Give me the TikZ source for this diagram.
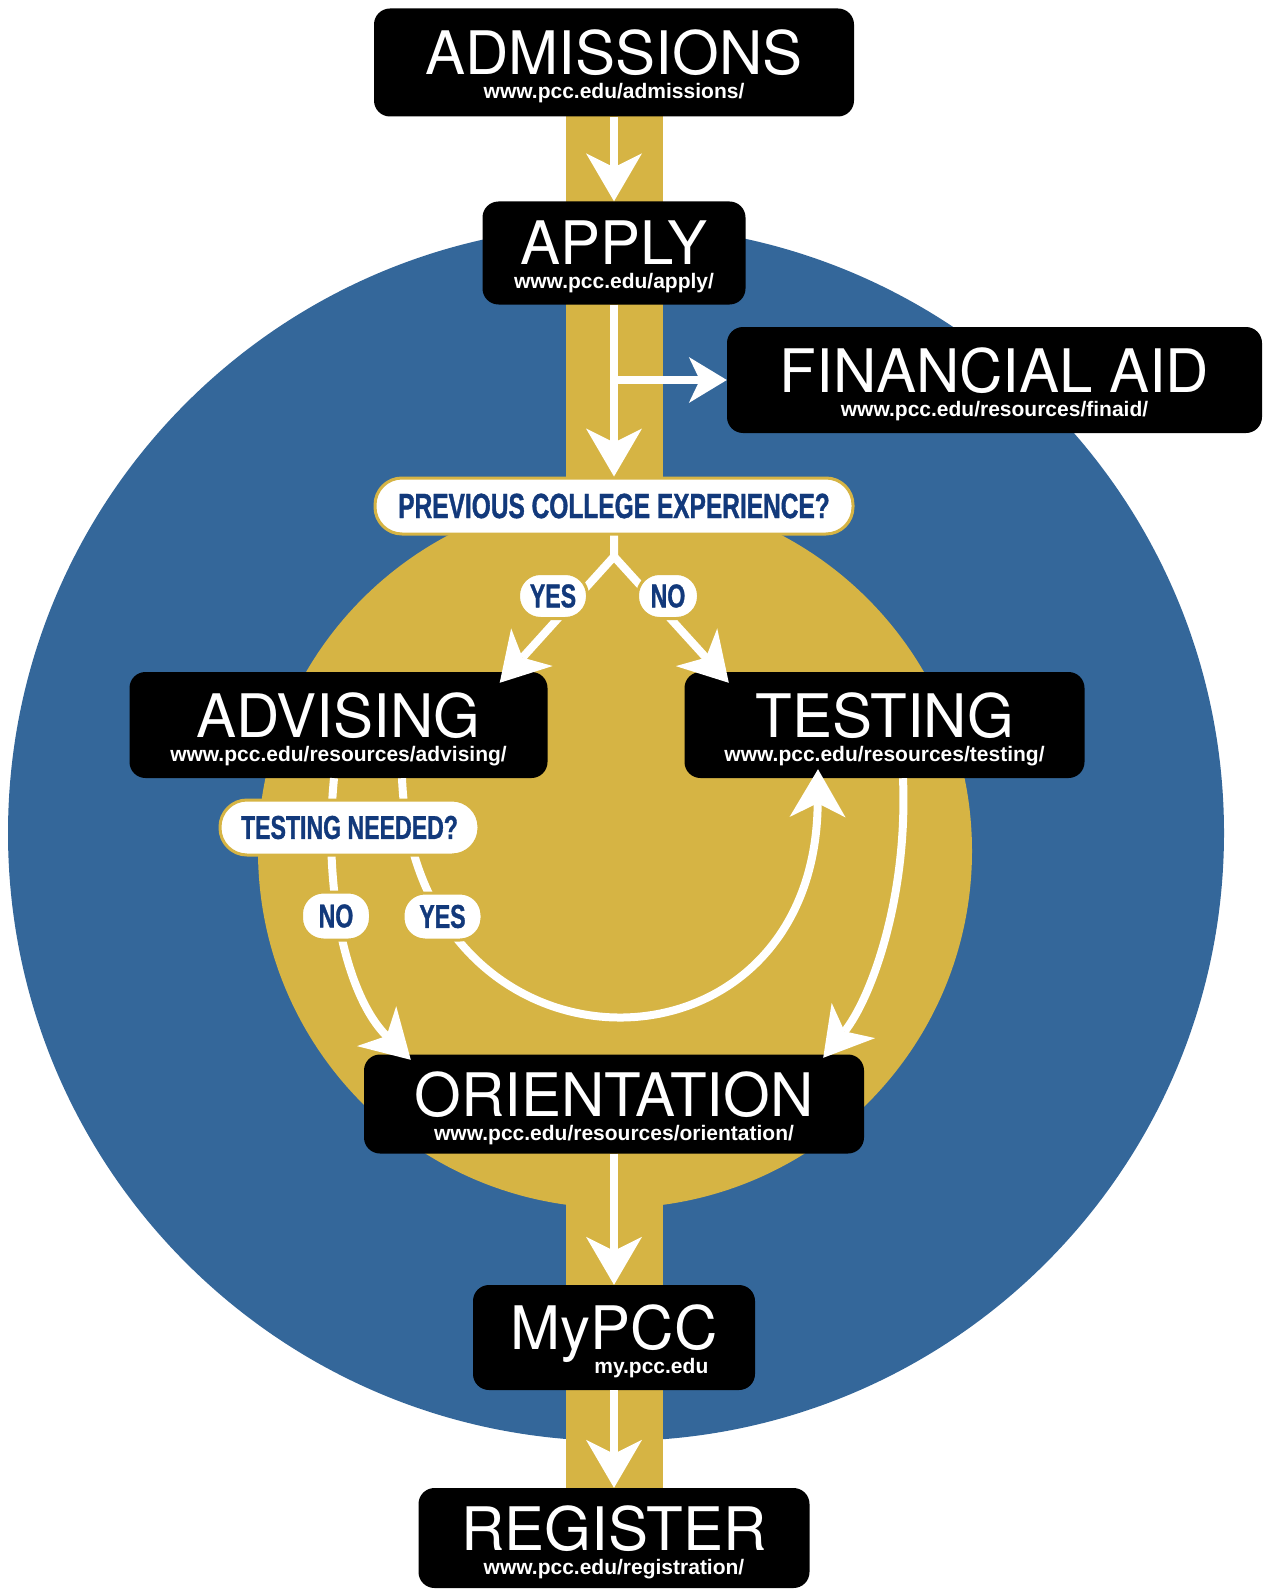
\documentclass[tikz,border=0pt]{standalone}
\usepackage{fontspec}
\setmainfont{TeX Gyre Heros}
\newfontfamily\urlfamily{Liberation Sans}
\newfontfamily\askfamily[FakeStretch=0.7,FakeBold=1]{Liberation Sans}
\usetikzlibrary{arrows.meta}
\definecolor{pccblue}{HTML}{34679A}
\definecolor{pccgold}{HTML}{D6B444}
\definecolor{asknavy}{HTML}{12397B}
\newcommand{\stepname}[2]{\vbox{\vskip8pt\baselineskip=24pt\lineskiplimit=-\maxdimen
  \halign{\hfil##\hfil\cr
    \fontsize{60}{60}\selectfont #1\cr
    \urlfamily\bfseries\fontsize{21}{21}\selectfont #2\cr}}}

\begin{document}
\begin{tikzpicture}[x=1pt,y=-1pt,
  stepbox/.style={fill=black,text=white,rounded corners=16pt,inner sep=0pt},
  askbox/.style={fill=white,draw=pccgold,line width=3pt,rounded corners=27pt,inner sep=0pt,
    text=asknavy,font=\askfamily\bfseries\fontsize{35}{35}\selectfont},
  yesno/.style={askbox,rounded corners=22pt,font=\askfamily\bfseries\fontsize{33}{33}\selectfont},
  flow/.style={draw=white,line width=8pt},
  arrow/.style={flow,-{Stealth[length=48pt,width=56pt,inset=14pt,line width=0pt]}}]
\useasboundingbox (0,0) rectangle (1264,1589);
\fill [pccblue] (616,833) circle [radius=608];
\fill [pccgold] (615,851) circle [radius=357];
\fill [pccgold] (566,100) rectangle (663,1500);
\node [stepbox,minimum width=480pt,minimum height=108pt] (admissions) at (614,62.5) {\stepname{ADMISSIONS}{www.pcc.edu/admissions/}};
\node [stepbox,minimum width=263pt,minimum height=103pt] (apply) at (614,253) {\stepname{APPLY}{www.pcc.edu/apply/}};
\node [stepbox,minimum width=535pt,minimum height=106pt] (finaid) at (994.5,380) {\stepname{FINANCIAL AID}{www.pcc.edu/resources/finaid/}};
\node [askbox,minimum width=478pt,minimum height=56pt] (question) at (614,506) {PREVIOUS COLLEGE EXPERIENCE?};
\node [stepbox,minimum width=418pt,minimum height=106pt] (advising) at (338.5,725) {\stepname{ADVISING}{www.pcc.edu/resources/advising/}};
\node [stepbox,minimum width=400pt,minimum height=106pt] (testing) at (884.5,725) {\stepname{TESTING}{www.pcc.edu/resources/testing/}};
\node [stepbox,minimum width=500pt,minimum height=99pt] (orientation) at (614,1104) {\stepname{ORIENTATION}{www.pcc.edu/resources/orientation/}};
\node [stepbox,minimum width=282pt,minimum height=105pt] (mypcc) at (614,1337.5) {\stepname{MyPCC}{\hfill my.pcc.edu\kern9pt}};
\node [stepbox,minimum width=391pt,minimum height=100pt] (register) at (614,1538) {\stepname{REGISTER}{www.pcc.edu/registration/}};
\coordinate (fork) at (apply.south |- finaid.west);
\coordinate (split) at ([yshift=-21pt]question.south);
\draw [arrow] (admissions.south) -- (apply.north);
\draw [arrow] (apply.south) -- (question.north);
\draw [flow,-{Stealth[length=38pt,width=46pt,inset=11pt,line width=0pt]}] (fork) -- (finaid.west);
\draw [arrow] (question.south) -- (split) -- ([xshift=-48pt,yshift=-11pt]advising.north east);
\draw [arrow,line cap=round] (split) -- ([xshift=44.5pt,yshift=-11pt]testing.north west);
\draw [arrow] ([xshift=-4.5pt]advising.south) .. controls (322,900) and (350,1000) .. ([xshift=47pt,yshift=-5.5pt]orientation.north west);
\draw [arrow] ([xshift=63.5pt]advising.south) .. controls (415,1093) and (815,1093) .. ([xshift=-66.5pt,yshift=9pt]testing.south);
\draw [arrow] ([xshift=18.5pt]testing.south) .. controls (908,900) and (870,1000) .. ([xshift=-41pt,yshift=-3.5pt]orientation.north east);
\draw [arrow] (orientation.south) -- (mypcc.north);
\draw [arrow] (mypcc.south) -- (register.north);
\node [askbox,minimum width=259pt,minimum height=55pt,font=\askfamily\bfseries\fontsize{33}{33}\selectfont] (needed) at (349.5,827.5) {TESTING NEEDED?};
\node [yesno,minimum width=69pt,minimum height=45pt] (yesprev) at (553,596) {YES};
\node [yesno,minimum width=61pt,minimum height=45pt] (noprev) at (668,596) {NO};
\node [yesno,minimum width=69pt,minimum height=48pt] (notest) at (336,916) {NO};
\node [yesno,minimum width=79pt,minimum height=47pt] (yestest) at (442.5,916.5) {YES};
\end{tikzpicture}
\end{document}
